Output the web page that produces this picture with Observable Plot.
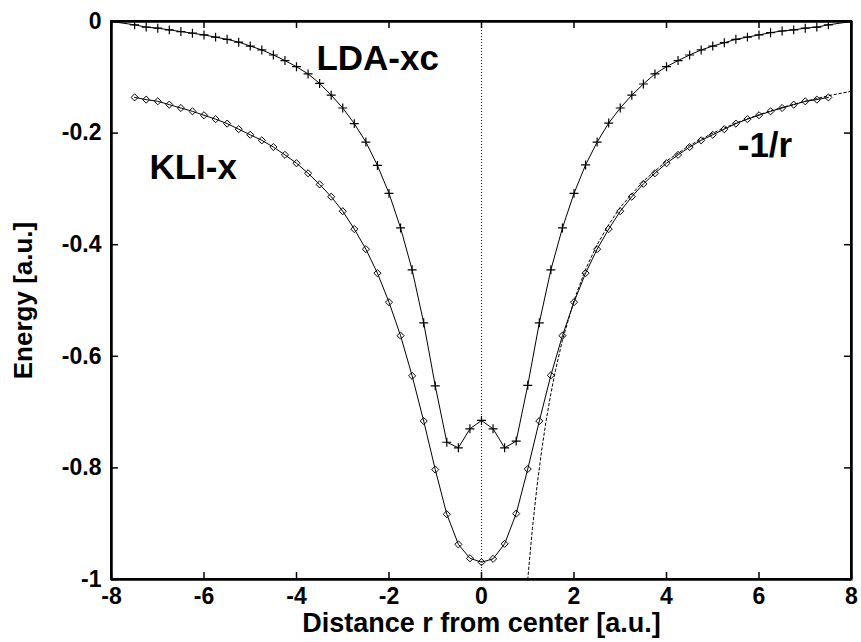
<!DOCTYPE html>
<html>
<head>
<meta charset="utf-8">
<script src="https://cdn.jsdelivr.net/npm/d3@7"></script>
<script src="https://cdn.jsdelivr.net/npm/@observablehq/plot@0.6"></script>
<style>
  html, body { margin: 0; padding: 0; background: #fff; overflow: hidden; }
  #chart { position: relative; width: 861px; height: 642px; }
  #chart svg { display: block; }
  #box { position: absolute; left: 110px; top: 20px; width: 738px; height: 556px; border: 2px solid #000; pointer-events: none; }
</style>
</head>
<body>
<div id="chart"><div id="box"></div></div>
<script>
// ---- data ----
const rValues = [-7.5, -7.25, -7, -6.75, -6.5, -6.25, -6, -5.75, -5.5, -5.25, -5, -4.75, -4.5, -4.25, -4, -3.75, -3.5, -3.25, -3, -2.75, -2.5, -2.25, -2, -1.75, -1.5, -1.25, -1, -0.75, -0.5, -0.25,
  0,
  0.25, 0.5, 0.75, 1, 1.25, 1.5, 1.75, 2, 2.25, 2.5, 2.75, 3, 3.25, 3.5, 3.75, 4, 4.25, 4.5, 4.75, 5, 5.25, 5.5, 5.75, 6, 6.25, 6.5, 6.75, 7, 7.25, 7.5];

const ldaXc = [-0.006, -0.010, -0.012, -0.015, -0.018, -0.021, -0.024, -0.028, -0.032, -0.037, -0.044, -0.051, -0.060, -0.070, -0.081, -0.094, -0.111, -0.132, -0.155, -0.183, -0.216, -0.258, -0.308, -0.370, -0.445, -0.540, -0.653, -0.754, -0.764, -0.730,
  -0.715,
  -0.730, -0.764, -0.752, -0.652, -0.540, -0.445, -0.370, -0.308, -0.257, -0.216, -0.182, -0.155, -0.132, -0.112, -0.094, -0.081, -0.070, -0.060, -0.051, -0.044, -0.038, -0.032, -0.028, -0.024, -0.020, -0.017, -0.015, -0.012, -0.010, -0.006];

const kliX = [-0.136, -0.140, -0.143, -0.149, -0.155, -0.161, -0.168, -0.175, -0.183, -0.193, -0.203, -0.213, -0.225, -0.239, -0.254, -0.272, -0.292, -0.314, -0.340, -0.372, -0.408, -0.451, -0.503, -0.563, -0.635, -0.716, -0.803, -0.883, -0.937, -0.962,
  -0.969,
  -0.963, -0.936, -0.882, -0.802, -0.716, -0.634, -0.563, -0.503, -0.451, -0.408, -0.372, -0.340, -0.314, -0.291, -0.272, -0.254, -0.239, -0.225, -0.213, -0.203, -0.193, -0.183, -0.175, -0.168, -0.161, -0.155, -0.149, -0.143, -0.140, -0.136];

// LDA-xc line continues to the frame edges (no markers there)
const ldaEdgeR = [-8, 8];
const ldaEdgeE = [0, 0];

// -1/r reference curve (dotted)
const coulombR = [1, 1.1, 1.2, 1.3, 1.4, 1.5, 1.6, 1.75, 2, 2.25, 2.5, 2.75, 3, 3.5, 4, 4.5, 5, 5.5, 6, 6.5, 7, 7.5, 8];
const coulombE = [-1, -0.909, -0.833, -0.769, -0.714, -0.667, -0.625, -0.571, -0.5, -0.444, -0.4, -0.364, -0.333, -0.286, -0.25, -0.222, -0.2, -0.182, -0.167, -0.154, -0.143, -0.133, -0.125];

// axis ticks
const xTickValues = [-8, -6, -4, -2, 0, 2, 4, 6, 8];
const xTickLabels = ["-8", "-6", "-4", "-2", "0", "2", "4", "6", "8"];
const yTickValues = [0, -0.2, -0.4, -0.6, -0.8, -1];
const yTickLabels = ["0", "-0.2", "-0.4", "-0.6", "-0.8", "-1"];

// frame edges (domain limits)
const xEdges = [-8, 8];
const yEdges = [-1, 0];

const xTitle = "Distance r from center [a.u.]";
const yTitle = "Energy [a.u.]";

// in-plot labels
const annoText = ["LDA-xc", "KLI-x", "-1/r"];
const annoR = [-3.57, -7.18, 5.54];
const annoE = [-0.067, -0.2625, -0.223];

// ---- build tables ----
const ldaPts = rValues.map((r, i) => ({r, e: ldaXc[i]}));
const kliPts = rValues.map((r, i) => ({r, e: kliX[i]}));
const ldaLine = [{r: ldaEdgeR[0], e: ldaEdgeE[0]}, ...ldaPts, {r: ldaEdgeR[1], e: ldaEdgeE[1]}];
const coulomb = coulombR.map((r, i) => ({r, e: coulombE[i]}));
const annos = annoText.map((t, i) => ({t, r: annoR[i], e: annoE[i]}));

const W = 861, H = 642;
const mL = 111, mR = 10, mT = 21, mB = 63;
const plotW = W - mL - mR, plotH = H - mT - mB;
const tickLen = 7;
const FONT = "Liberation Sans, Arial, Helvetica, sans-serif";

const chart = Plot.plot({
  width: W,
  height: H,
  marginLeft: mL,
  marginRight: mR,
  marginTop: mT,
  marginBottom: mB,
  style: {fontFamily: FONT, fontWeight: "bold", background: "white", color: "black"},
  x: {domain: [-8, 8]},
  y: {domain: [-1, 0]},
  marks: [
    // frame (as rules) and inward ticks on all four sides
    Plot.ruleX(xEdges, {x: d => d, stroke: "black", strokeWidth: 2}),
    Plot.ruleY(yEdges, {y: d => d, stroke: "black", strokeWidth: 2}),
    Plot.ruleX(xTickValues, {x: d => d, insetTop: plotH - tickLen, stroke: "black", strokeWidth: 1.5}),
    Plot.ruleX(xTickValues, {x: d => d, insetBottom: plotH - tickLen, stroke: "black", strokeWidth: 1.5}),
    Plot.ruleY(yTickValues, {y: d => d, insetRight: plotW - tickLen, stroke: "black", strokeWidth: 1.5}),
    Plot.ruleY(yTickValues, {y: d => d, insetLeft: plotW - tickLen, stroke: "black", strokeWidth: 1.5}),
    // data
    Plot.ruleX([0], {stroke: "black", strokeWidth: 0.9, strokeDasharray: "1,2"}),
    Plot.line(coulomb, {x: "r", y: "e", stroke: "black", strokeWidth: 1, strokeDasharray: "2.5,2.5"}),
    Plot.line(ldaLine, {x: "r", y: "e", stroke: "black", strokeWidth: 1}),
    Plot.line(kliPts, {x: "r", y: "e", stroke: "black", strokeWidth: 1}),
    Plot.dot(ldaPts, {x: "r", y: "e", symbol: "plus", r: 3, stroke: "black", strokeWidth: 1.2}),
    Plot.dot(kliPts, {x: "r", y: "e", symbol: "diamond2", r: 3.2, stroke: "black", fill: "none", strokeWidth: 1}),
    // tick labels
    Plot.axisX({ticks: xTickValues, tickFormat: d => xTickLabels[xTickValues.indexOf(d)], tickSize: 0, tickPadding: 8,
      label: null, fontSize: 23, fontWeight: "bold", fontFamily: FONT, fill: "black"}),
    Plot.axisY({ticks: yTickValues, tickFormat: d => yTickLabels[yTickValues.indexOf(d)], tickSize: 0, tickPadding: 10,
      label: null, fontSize: 23, fontWeight: "bold", fontFamily: FONT, fill: "black"}),
    // axis titles
    Plot.text([xTitle], {text: d => d, frameAnchor: "bottom", dy: 33, lineAnchor: "top", textAnchor: "middle",
      fontSize: 27, fontWeight: "bold", fontFamily: FONT, fill: "black"}),
    Plot.text([yTitle], {text: d => d, frameAnchor: "left", dx: -88, rotate: -90, lineAnchor: "middle", textAnchor: "middle",
      fontSize: 26, fontWeight: "bold", fontFamily: FONT, fill: "black"}),
    // annotations
    Plot.text(annos, {x: "r", y: "e", text: "t", textAnchor: "start", lineAnchor: "middle",
      fontSize: 35, fontWeight: "bold", fontFamily: FONT, fill: "black"}),
    Plot.frame({stroke: "black", strokeWidth: 2})
  ]
});

document.getElementById("chart").insertBefore(chart, document.getElementById("box"));
</script>
</body>
</html>
